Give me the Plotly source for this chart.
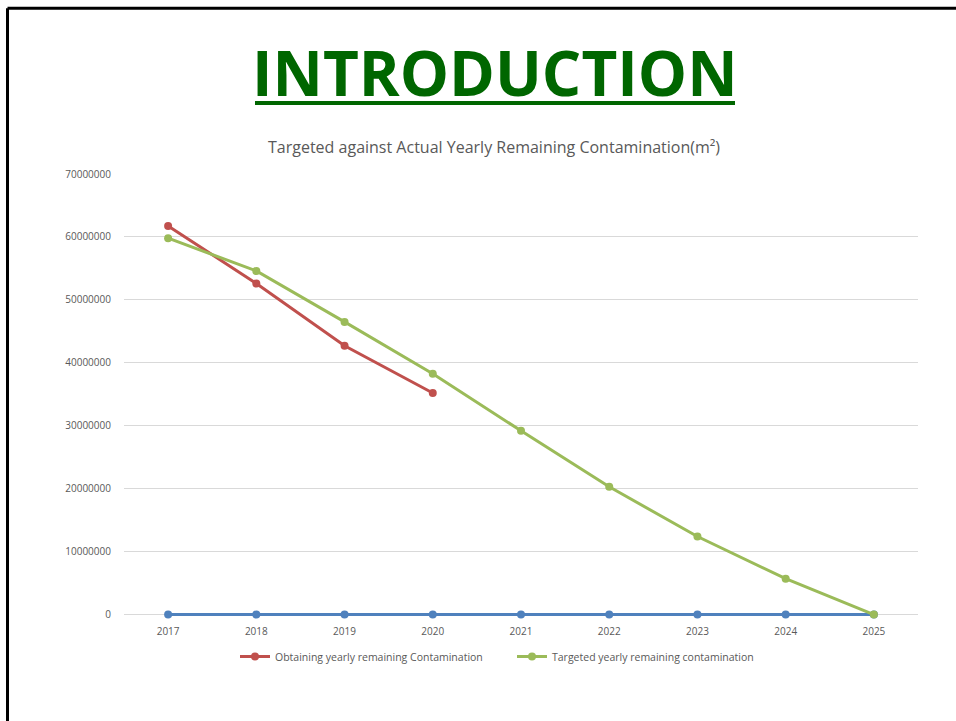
import plotly.graph_objects as go

years = ["2017", "2018", "2019", "2020", "2021", "2022", "2023", "2024", "2025"]
baseline = [0, 0, 0, 0, 0, 0, 0, 0, 0]
obtained_years = ["2017", "2018", "2019", "2020"]
obtained = [61750000, 52600000, 42700000, 35200000]
targeted = [59800000, 54600000, 46500000, 38250000, 29200000, 20300000, 12400000, 5700000, 0]
y_ticks = [0, 10000000, 20000000, 30000000, 40000000, 50000000, 60000000, 70000000]

FONT = "Open Sans"
GRAY = "#595959"

fig = go.Figure()
fig.add_trace(go.Scatter(x=years, y=baseline, mode="lines+markers", showlegend=False, cliponaxis=False,
                         line=dict(color="#4F81BD", width=3), marker=dict(size=8, color="#4F81BD")))
fig.add_trace(go.Scatter(x=obtained_years, y=obtained, mode="lines+markers", cliponaxis=False,
                         name="Obtaining yearly remaining Contamination",
                         line=dict(color="#C0504D", width=3), marker=dict(size=8, color="#C0504D")))
fig.add_trace(go.Scatter(x=years, y=targeted, mode="lines+markers", cliponaxis=False,
                         name="Targeted yearly remaining contamination",
                         line=dict(color="#9BBB59", width=3), marker=dict(size=8, color="#9BBB59")))

Y_LOW = -1500000
W, H = 956, 721
L, R, T = 124, 38, 174
extra = -Y_LOW * 441 / 70000000
B = 106 - extra
pw, ph = W - L - R, H - T - B

def px(x):
    return (x - L) / pw

def py(y):
    return (H - B - y) / ph

fig.update_layout(
    width=W, height=H,
    margin=dict(l=L, r=R, t=T, b=B, autoexpand=False),
    paper_bgcolor="white", plot_bgcolor="white",
    font=dict(family=FONT, color=GRAY, size=10),
    showlegend=True,
    legend=dict(orientation="h", x=px(235), xanchor="left", y=py(657), yanchor="middle",
                font=dict(size=10.5, color=GRAY, family=FONT), itemwidth=30,
                entrywidth=232, bgcolor="rgba(0,0,0,0)"),
    xaxis=dict(type="category", showgrid=False, zeroline=False, showline=False,
               ticks="", tickfont=dict(size=10, color=GRAY), range=[-0.5, 8.5],
               ticklabelstandoff=0),
    yaxis=dict(range=[Y_LOW, 70000000], tickvals=y_ticks, tickformat="d", showgrid=True,
               gridcolor="#D9D9D9", gridwidth=1, zeroline=False, showline=False,
               ticks="", ticklen=0, tickfont=dict(size=10, color=GRAY), ticklabelstandoff=12),
    annotations=[
        dict(text="Targeted against Actual Yearly Remaining Contamination(m²)",
             xref="paper", yref="paper", x=px(494), y=py(147), xanchor="center", yanchor="middle",
             showarrow=False, font=dict(size=16, color=GRAY, family=FONT)),
        dict(text="<b>INTRODUCTION</b>",
             xref="paper", yref="paper", x=px(495), y=py(72), xanchor="center", yanchor="middle",
             showarrow=False, font=dict(size=62, color="#006600", family=FONT)),
    ],
    shapes=[
        dict(type="line", xref="paper", yref="paper", x0=px(255), x1=px(735), y0=py(103), y1=py(103),
             line=dict(color="#006600", width=4)),
        dict(type="line", xref="paper", yref="paper", x0=px(7.5), x1=px(960), y0=py(8), y1=py(8),
             line=dict(color="black", width=3)),
        dict(type="line", xref="paper", yref="paper", x0=px(7.5), x1=px(7.5), y0=py(8), y1=py(725),
             line=dict(color="black", width=3)),
    ],
)

fig.write_html("out.html", config={"displayModeBar": False},
               post_script="document.body.style.margin='0';")
